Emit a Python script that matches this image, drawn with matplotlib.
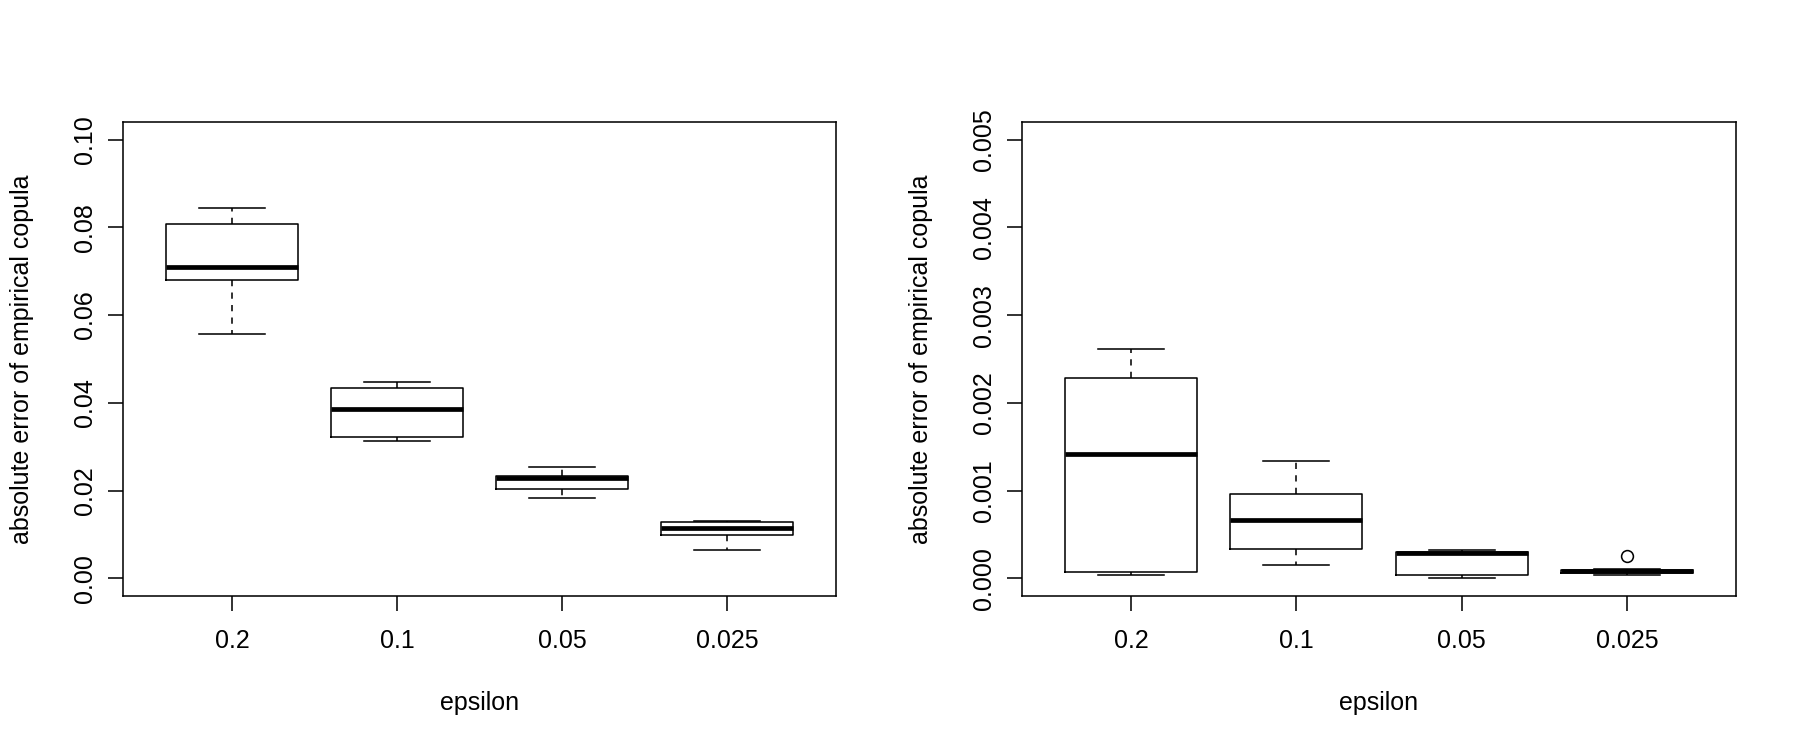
import matplotlib
matplotlib.use("Agg")
import matplotlib.pyplot as plt

plt.rcParams['font.family'] = ['Liberation Sans', 'DejaVu Sans']

categories = ["0.2", "0.1", "0.05", "0.025"]

# left panel: (whislo, q1, med, q3, whishi)
left_whislo = [0.0558, 0.0313, 0.0184, 0.0065]
left_q1 = [0.0681, 0.0322, 0.0204, 0.0099]
left_med = [0.0709, 0.0385, 0.0229, 0.0114]
left_q3 = [0.0808, 0.0435, 0.0233, 0.0128]
left_whishi = [0.0844, 0.0448, 0.0255, 0.0132]
left_fliers = [[], [], [], []]
left_yticks = [0.00, 0.02, 0.04, 0.06, 0.08, 0.10]
left_yticklabels = ["0.00", "0.02", "0.04", "0.06", "0.08", "0.10"]

# right panel
right_whislo = [0.000034, 0.000156, 0.000004, 0.000034]
right_q1 = [0.000068, 0.000334, 0.000034, 0.000061]
right_med = [0.001419, 0.000671, 0.000285, 0.000080]
right_q3 = [0.002288, 0.000967, 0.000303, 0.000099]
right_whishi = [0.002618, 0.001335, 0.000319, 0.000106]
right_fliers = [[], [], [], [0.00025]]
right_yticks = [0.000, 0.001, 0.002, 0.003, 0.004, 0.005]
right_yticklabels = ["0.000", "0.001", "0.002", "0.003", "0.004", "0.005"]

xlabel = "epsilon"
ylabel = "absolute error of empirical copula"

LW = 1.125
FS = 18

fig = plt.figure(figsize=(18, 7.5), dpi=100)
W, H = 1800, 750


def make_axes(x0, x1, y0, y1):
    return fig.add_axes([x0 / W, 1 - y1 / H, (x1 - x0) / W, (y1 - y0) / H])


def draw(ax, wlo, q1, med, q3, whi, fl, yt, ytl):
    stats = []
    for i in range(len(categories)):
        stats.append(dict(whislo=wlo[i], q1=q1[i], med=med[i], q3=q3[i],
                          whishi=whi[i], fliers=fl[i], label=categories[i]))
    ax.bxp(stats, positions=range(1, len(categories) + 1), widths=0.8,
           capwidths=0.4, showfliers=True,
           boxprops=dict(color='black', linewidth=LW),
           whiskerprops=dict(color='black', linewidth=LW, linestyle=(0, (4, 4))),
           capprops=dict(color='black', linewidth=LW),
           medianprops=dict(color='black', linewidth=3.4, solid_capstyle='butt'),
           flierprops=dict(marker='o', markerfacecolor='none', markeredgecolor='black',
                           markersize=8.5, markeredgewidth=LW))
    lo, hi = yt[0], yt[-1]
    ext = (hi - lo) * 0.04
    ax.set_ylim(lo - ext, hi + ext)
    ax.set_xlim(0.34, 4.66)
    ax.set_xticks(range(1, len(categories) + 1))
    ax.set_xticklabels(categories, fontsize=FS)
    ax.set_yticks(yt)
    ax.set_yticklabels(ytl, fontsize=FS, rotation=90, va='center', ha='right')
    for s in ax.spines.values():
        s.set_linewidth(LW)
    ax.tick_params(axis='both', length=10.8, width=LW, direction='out')
    ax.tick_params(axis='x', pad=13)
    ax.tick_params(axis='y', pad=8)
    ax.set_xlabel(xlabel, fontsize=FS, va='center')
    ax.set_ylabel(ylabel, fontsize=FS, va='center')


ax1 = make_axes(123, 836, 122, 596)
draw(ax1, left_whislo, left_q1, left_med, left_q3, left_whishi, left_fliers,
     left_yticks, left_yticklabels)
ax1.xaxis.set_label_coords(0.5, -(703 - 596) / 474)
ax1.yaxis.set_label_coords(-(123 - 22) / 713, 0.5)

ax2 = make_axes(1022, 1736, 122, 596)
draw(ax2, right_whislo, right_q1, right_med, right_q3, right_whishi, right_fliers,
     right_yticks, right_yticklabels)
ax2.xaxis.set_label_coords(0.5, -(703 - 596) / 474)
ax2.yaxis.set_label_coords(-(1022 - 921) / 714, 0.5)

fig.savefig("out.png", dpi=100, facecolor='white')
